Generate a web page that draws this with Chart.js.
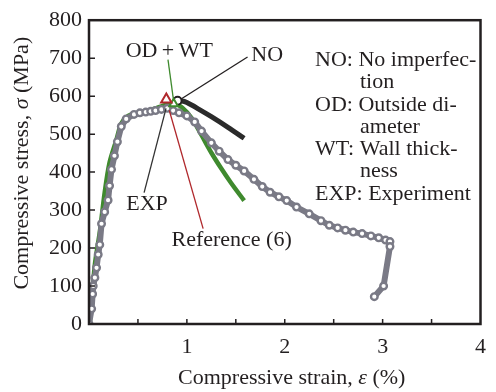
<!DOCTYPE html>
<html>
<head>
<meta charset="utf-8">
<script src="https://cdn.jsdelivr.net/npm/chart.js@4"></script>
<style>
  html, body { margin: 0; padding: 0; background: #fff; }
</style>
</head>
<body>
<canvas id="chart" width="496" height="392"></canvas>
<script>
// Experiment (EXP): compressive strain (%) and stress (MPa)
const expStrain = [0, 0.027, 0.037, 0.043, 0.06, 0.077, 0.094, 0.11, 0.128, 0.16, 0.195, 0.21, 0.23, 0.26, 0.29, 0.33, 0.38, 0.46, 0.52, 0.58, 0.63, 0.68, 0.74, 0.8, 0.86, 0.92, 1.0, 1.08, 1.15, 1.25, 1.33, 1.42, 1.5, 1.585, 1.685, 1.77, 1.85, 1.94, 2.02, 2.12, 2.25, 2.37, 2.455, 2.54, 2.62, 2.7, 2.79, 2.88, 2.96, 3.03, 3.075, 3.075, 3.01, 2.915];
const expStress = [0, 40, 79, 100, 122, 148, 183, 209, 264, 295, 326, 364, 407, 443, 480, 520, 540, 552, 556, 558, 560, 562, 565, 568, 562, 556, 548, 532, 508, 477, 455, 433, 418, 403, 381, 362, 347, 335, 325, 308, 290, 272, 260, 253, 247, 242, 238, 232, 227, 221, 217, 204, 100, 72];

// OD + WT imperfection model
const odwtStrain = [0, 0.01, 0.06, 0.11, 0.16, 0.21, 0.28, 0.33, 0.4, 0.5, 0.6, 0.7, 0.8, 0.87, 0.95, 1.05, 1.15, 1.25, 1.35, 1.45, 1.585];
const odwtStress = [0, 9, 157, 242, 346, 425, 485, 528, 548, 556, 562, 570, 578, 582, 570, 542, 497, 451, 410, 372, 325];

// NO imperfection model (post-peak part visible)
const noStrain = [0.88, 0.95, 1.0, 1.12, 1.25, 1.42, 1.585];
const noStress = [587, 587, 583, 566, 546, 518, 489];

// peak markers: Reference (6), OD+WT, NO
const refPeak = [0.79, 591];
const odwtPeak = [0.865, 580];
const noPeak = [0.905, 588];

// callout leader lines [from, to]
const odwtLeader = [[0.807, 696], [0.864, 588]];
const noLeader = [[1.62, 703], [0.925, 590]];
const expLeader = [[0.787, 568], [0.563, 346]];
const refLeader = [[0.82, 563], [1.166, 251]];

// tick labels
const xTickLabels = ['', '1', '2', '3', '4'];
const xMinorTicks = [0.5, 1, 1.5, 2, 2.5, 3, 3.5];
const yTicks = [0, 100, 200, 300, 400, 500, 600, 700, 800];
const yTickLabels = ['0', '100', '200', '300', '400', '500', '600', '700', '800'];

const SERIF = '"Liberation Serif", "Times New Roman", serif';
const INK = '#231f20';
const GRAY = '#7a7a86';
const GREEN = '#3f8a2e';
const RED = '#b0282c';

const toPoints = (xs, ys) => xs.map((v, i) => ({ x: v, y: ys[i] }));
const pair = p => p.map(q => ({ x: q[0], y: q[1] }));

function leader(points, color) {
    return {
        data: pair(points), showLine: true, borderColor: color,
        borderWidth: 1.3, pointRadius: 0, tension: 0
    };
}

function marker(p, style, radius, color) {
    return {
        data: [{ x: p[0], y: p[1] }], pointStyle: style, pointRadius: radius,
        pointBorderColor: color, pointBackgroundColor: '#fff', pointBorderWidth: 2
    };
}

// draw text made of upright and italic pieces, centred on (cx, cy)
function drawMixed(ctx, parts, cx, cy) {
    let total = 0;
    parts.forEach(p => {
        ctx.font = (p.it ? 'italic ' : '') + '22px ' + SERIF;
        p.w = ctx.measureText(p.t).width;
        total += p.w;
    });
    let x = cx - total / 2;
    parts.forEach(p => {
        ctx.font = (p.it ? 'italic ' : '') + '22px ' + SERIF;
        ctx.fillText(p.t, x, cy);
        x += p.w;
    });
}

const decorations = {
    id: 'decorations',
    afterDraw(chart) {
        const { ctx, chartArea: a, scales: { x, y } } = chart;
        ctx.save();
        ctx.strokeStyle = INK;
        ctx.lineWidth = 1.5;
        ctx.beginPath();
        xMinorTicks.forEach(v => {
            const px = x.getPixelForValue(v);
            ctx.moveTo(px, a.bottom);
            ctx.lineTo(px, a.bottom - 5);
        });
        yTicks.forEach(v => {
            const py = y.getPixelForValue(v);
            ctx.moveTo(a.left, py);
            ctx.lineTo(a.left + 6, py);
        });
        ctx.stroke();
        ctx.lineWidth = 2.5;
        ctx.strokeRect(a.left, a.top, a.right - a.left, a.bottom - a.top);

        ctx.fillStyle = INK;
        ctx.textBaseline = 'middle';

        // callout labels
        const label = (t, vx, vy) => {
            ctx.font = '22px ' + SERIF;
            ctx.textAlign = 'center';
            ctx.fillText(t, x.getPixelForValue(vx), y.getPixelForValue(vy));
        };
        label('OD\u2009+\u2009WT', 0.82, 718);
        label('NO', 1.82, 708);
        label('EXP', 0.593, 315);
        label('Reference (6)', 1.457, 220);

        // abbreviation notes
        ctx.textAlign = 'left';
        ctx.font = '22px ' + SERIF;
        const notes = [
            ['NO: No imperfec-', 0], ['tion', 45],
            ['OD: Outside di-', 0], ['ameter', 45],
            ['WT: Wall thick-', 0], ['ness', 45],
            ['EXP: Experiment', 0]
        ];
        notes.forEach((n, i) => {
            ctx.fillText(n[0], a.left + 226 + n[1], a.top + 40 + i * 22.3);
        });

        // axis titles
        drawMixed(ctx, [{ t: 'Compressive strain, ' }, { t: '\u03b5', it: true }, { t: ' (%)' }],
            (a.left + a.right) / 2 + 7, a.bottom + 54);
        ctx.translate(22, a.top + 143);
        ctx.rotate(-Math.PI / 2);
        drawMixed(ctx, [{ t: 'Compressive stress, ' }, { t: '\u03c3', it: true }, { t: ' (MPa)' }], 0, 0);
        ctx.restore();
    }
};

const ctx = document.getElementById('chart').getContext('2d');
const chart = new Chart(ctx, {
    type: 'scatter',
    data: {
        datasets: [
            marker(refPeak, 'triangle', 6, RED),
            marker(odwtPeak, 'triangle', 5, GREEN),
            marker(noPeak, 'circle', 4, INK),
            leader(odwtLeader, GREEN),
            leader(noLeader, INK),
            leader(expLeader, '#333'),
            leader(refLeader, RED),
            {
                data: toPoints(noStrain, noStress), showLine: true,
                borderColor: '#2b2b2b', borderWidth: 5, pointRadius: 0, tension: 0.3
            },
            {
                data: toPoints(expStrain, expStress), showLine: true,
                borderColor: GRAY, borderWidth: 6, tension: 0,
                pointRadius: 3.3, pointBorderWidth: 2.4,
                pointBorderColor: GRAY, pointBackgroundColor: '#fff'
            },
            {
                data: toPoints(odwtStrain, odwtStress), showLine: true,
                borderColor: GREEN, borderWidth: 4.5, pointRadius: 0, tension: 0.3
            }
        ]
    },
    options: {
        responsive: false,
        animation: false,
        devicePixelRatio: 1,
        layout: { padding: { top: 16, right: 9, left: 0, bottom: 0 } },
        plugins: { legend: { display: false }, tooltip: { enabled: false } },
        scales: {
            x: {
                type: 'linear', min: 0, max: 4,
                grid: { display: false, drawTicks: false },
                border: { display: false },
                ticks: {
                    stepSize: 1, padding: 10, color: INK,
                    font: { family: SERIF, size: 22 },
                    callback: (v, i) => xTickLabels[i]
                },
                afterFit: s => { s.height = 68; }
            },
            y: {
                min: 0, max: 800,
                grid: { display: false, drawTicks: false },
                border: { display: false },
                ticks: {
                    stepSize: 100, padding: 7, color: INK,
                    font: { family: SERIF, size: 22 },
                    callback: (v, i) => yTickLabels[i]
                },
                afterFit: s => { s.width = 89; }
            }
        }
    },
    plugins: [decorations]
});
</script>
</body>
</html>
